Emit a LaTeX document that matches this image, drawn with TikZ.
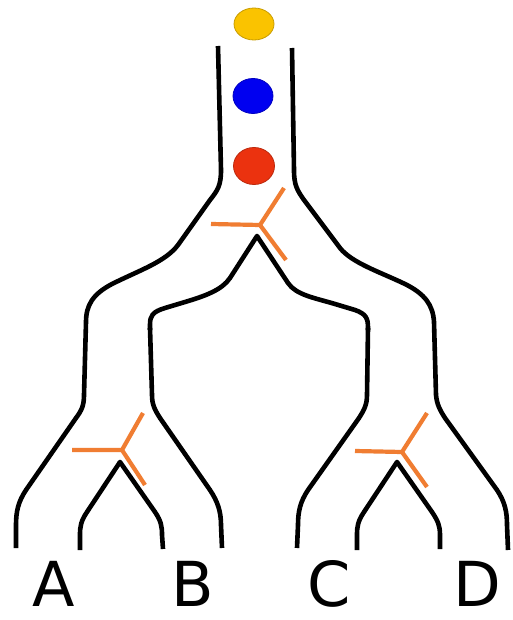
\documentclass[tikz,border=0pt]{standalone}
\usepackage{fontspec}
\setmainfont{DejaVu Sans}
\usetikzlibrary{shapes.geometric}
\definecolor{tubeorange}{RGB}{240,125,50}
\definecolor{dotyellow}{RGB}{250,195,0}
\definecolor{dotblue}{RGB}{0,0,240}
\definecolor{dotred}{RGB}{235,50,15}
\begin{document}
\begin{tikzpicture}[x=1pt,y=-1pt,
  wall/.style={line width=4.6pt,black,line join=round},
  yarm/.style={line width=4.2pt,tubeorange,line join=round},
  dot/.style={ellipse,inner sep=0pt,draw=#1!80!black,line width=0.8pt,fill=#1},
  lbl/.style={anchor=base,font=\fontsize{62}{66}\selectfont,inner sep=0pt}]
\useasboundingbox (0,0) rectangle (513,620);
\fill[white] (0,0) rectangle (513,620);
% dots
\node[dot=dotyellow,minimum width=40pt,minimum height=32pt] (yellow) at (254,24) {};
\node[dot=dotblue,minimum width=40pt,minimum height=35pt] (blue) at (253,96) {};
\node[dot=dotred,minimum width=41pt,minimum height=37pt] (red) at (254,166) {};
% outer left wall
\draw[wall] (218,46) -- (221,170) .. controls (221,185) and (218,190) .. (210,200)
  -- (178,245) .. controls (165,262) and (140,270) .. (112,284)
  .. controls (93,294) and (86,305) .. (86,322) -- (84,395)
  .. controls (84,405) and (82,410) .. (76,418) -- (26,490)
  .. controls (18,502) and (16,512) .. (16,525) -- (16,548);
% outer right wall
\draw[wall] (292,48) -- (294,170) .. controls (294,185) and (297,190) .. (304,200)
  -- (340,248) .. controls (352,263) and (380,272) .. (405,284)
  .. controls (425,294) and (433,305) .. (434,322) -- (436,395)
  .. controls (437,405) and (440,410) .. (445,418) -- (497,490)
  .. controls (505,502) and (507,512) .. (507,525) -- (508,550);
% inner walls from top apex
\coordinate (apexTop) at (257,236);
\draw[wall] (150,330) -- (150,325) .. controls (150,316) and (152,312) .. (165,308)
  -- (185,302) .. controls (205,296) and (222,290) .. (230,278) -- (apexTop)
  -- (288,283) .. controls (296,295) and (315,298) .. (335,304)
  -- (355,310) .. controls (366,314) and (368,318) .. (368,328) -- (368,330);
\draw[wall] (150,328) -- (152,395) .. controls (152,405) and (155,410) .. (160,418)
  -- (210,490) .. controls (218,502) and (221,512) .. (221,525) -- (222,548);
\draw[wall] (368,328) -- (367,395) .. controls (367,405) and (364,410) .. (359,418)
  -- (308,490) .. controls (300,502) and (298,512) .. (298,525) -- (297,548);
% small apex AB
\coordinate (apexAB) at (120,462);
\draw[wall] (80,550) -- (80,535) .. controls (80,526) and (81,521) .. (87,512) -- (apexAB)
  -- (155,512) .. controls (161,521) and (162,526) .. (162,535) -- (163,549);
% small apex CD
\coordinate (apexCD) at (397,462);
\draw[wall] (357,550) -- (357,535) .. controls (357,526) and (358,521) .. (364,512) -- (apexCD)
  -- (432,512) .. controls (438,521) and (440,526) .. (440,535) -- (440,549);
% orange Y shapes
\coordinate (yTop) at (260,225);
\coordinate (yAB) at (122,450);
\coordinate (yCD) at (402,452);
\draw[yarm] (211,224) -- (yTop) -- (284,188) (yTop) -- (286,260);
\draw[yarm] (72,450) -- (yAB) -- (143,413) (yAB) -- (145,485);
\draw[yarm] (355,451) -- (yCD) -- (427,413) (yCD) -- (427,487);
% labels
\node[lbl] (A) at (54,606) {A};
\node[lbl] (B) at (193,606) {B};
\node[lbl] (C) at (329,606) {C};
\node[lbl] (D) at (477,606) {D};
\end{tikzpicture}
\end{document}
